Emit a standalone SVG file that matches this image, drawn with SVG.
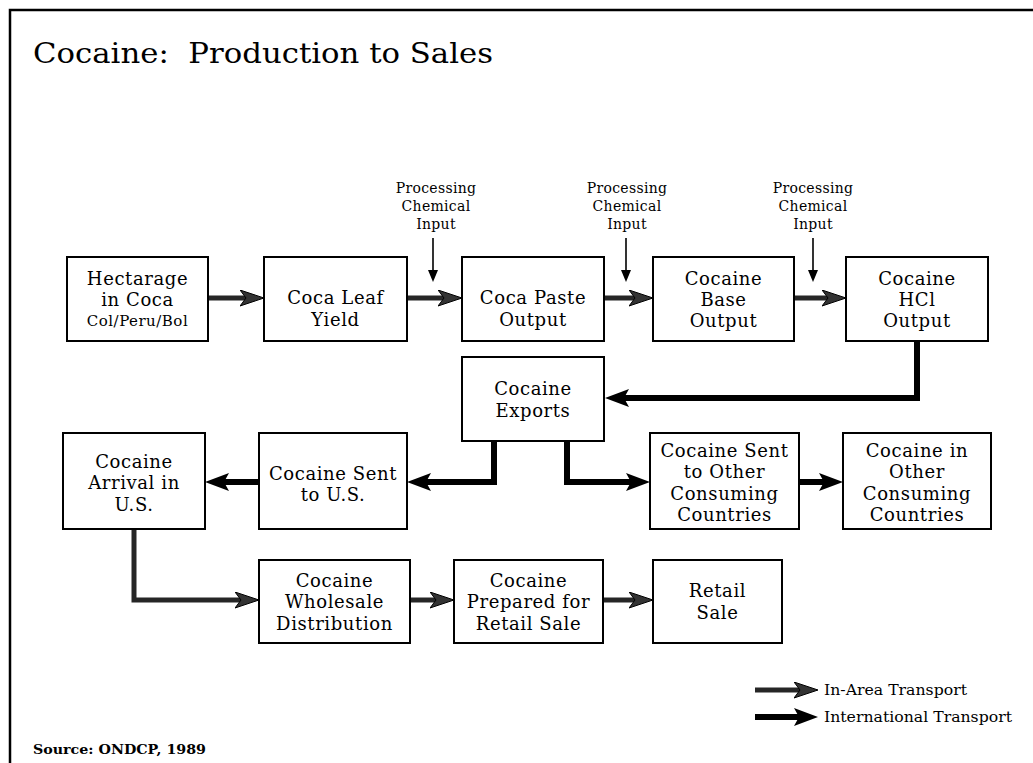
<svg xmlns="http://www.w3.org/2000/svg" width="1033" height="763" viewBox="0 0 1033 763">
<style>
.box{fill:#fff;stroke:#000;stroke-width:2}
.t{font-family:"DejaVu Serif","Liberation Serif",serif;font-size:18px;letter-spacing:0.6px;fill:#000;text-anchor:middle}
.s{font-family:"DejaVu Serif","Liberation Serif",serif;font-size:15px;letter-spacing:0.5px;fill:#000;text-anchor:middle}
.lab{font-family:"DejaVu Serif","Liberation Serif",serif;font-size:14px;letter-spacing:0.3px;fill:#000;text-anchor:middle}
.leg{font-family:"DejaVu Serif","Liberation Serif",serif;font-size:14px;fill:#000}
.inarea{fill:none;stroke:#262626;stroke-width:5;marker-end:url(#ahIn)}
.intl{fill:none;stroke:#000;stroke-width:6;marker-end:url(#ahIntl)}
.input{fill:none;stroke:#000;stroke-width:1.6;marker-end:url(#ahInput)}
</style>
<defs>
<marker id="ahIn" markerUnits="userSpaceOnUse" markerWidth="26" markerHeight="18" refX="10" refY="8" orient="auto">
<path d="M0,0 L24,8 L0,16 L6,8 Z" fill="#333" stroke="#000" stroke-width="1"/>
</marker>
<marker id="ahIntl" markerUnits="userSpaceOnUse" markerWidth="26" markerHeight="20" refX="10" refY="9" orient="auto">
<path d="M0,0 L24,9 L0,18 L5,9 Z" fill="#000"/>
</marker>
<marker id="ahInput" markerUnits="userSpaceOnUse" markerWidth="14" markerHeight="12" refX="4" refY="5" orient="auto">
<path d="M0,0 L12,5 L0,10 Z" fill="#000"/>
</marker>
</defs>
<rect width="1033" height="763" fill="#fff"/>
<path d="M10,763 V10 H1033" fill="none" stroke="#000" stroke-width="2.5"/>
<text x="33" y="63" font-family="DejaVu Serif, Liberation Serif, serif" font-size="28" textLength="460" lengthAdjust="spacingAndGlyphs" xml:space="preserve">Cocaine:  Production to Sales</text>

<g id="labels">
<text class="lab" x="436" y="193">Processing</text>
<text class="lab" x="436" y="211">Chemical</text>
<text class="lab" x="436" y="229">Input</text>
<text class="lab" x="627" y="193">Processing</text>
<text class="lab" x="627" y="211">Chemical</text>
<text class="lab" x="627" y="229">Input</text>
<text class="lab" x="813" y="193">Processing</text>
<text class="lab" x="813" y="211">Chemical</text>
<text class="lab" x="813" y="229">Input</text>
</g>

<g id="connectors">
<path class="input" d="M433,238 V274"/>
<path class="input" d="M626,238 V274"/>
<path class="input" d="M813,238 V274"/>
<path class="inarea" d="M208,298 H250"/>
<path class="inarea" d="M407,298 H448"/>
<path class="inarea" d="M604,298 H639"/>
<path class="inarea" d="M794,298 H832"/>
<path class="intl" d="M917,341 V398 H619"/>
<path class="intl" d="M494,441 V482 H421"/>
<path class="intl" d="M259,482 H219"/>
<path class="intl" d="M567,441 V482 H636"/>
<path class="intl" d="M799,482 H829"/>
<path class="inarea" d="M134,529 V600 H245"/>
<path class="inarea" d="M410,600 H440"/>
<path class="inarea" d="M603,600 H639"/>
</g>

<g id="hectarage"><rect class="box" x="67" y="257" width="141" height="84"/>
<text class="t" x="137.5" y="285">Hectarage</text><text class="t" x="137.5" y="306">in Coca</text><text class="s" x="137.5" y="326">Col/Peru/Bol</text></g>
<g id="coca-leaf"><rect class="box" x="264" y="257" width="143" height="84"/>
<text class="t" x="335.5" y="304">Coca Leaf</text><text class="t" x="335.5" y="326">Yield</text></g>
<g id="coca-paste"><rect class="box" x="462" y="257" width="142" height="84"/>
<text class="t" x="533" y="304">Coca Paste</text><text class="t" x="533" y="326">Output</text></g>
<g id="cocaine-base"><rect class="box" x="653" y="257" width="141" height="84"/>
<text class="t" x="723.5" y="285">Cocaine</text><text class="t" x="723.5" y="306">Base</text><text class="t" x="723.5" y="327">Output</text></g>
<g id="cocaine-hcl"><rect class="box" x="846" y="257" width="142" height="84"/>
<text class="t" x="917" y="285">Cocaine</text><text class="t" x="917" y="306">HCl</text><text class="t" x="917" y="327">Output</text></g>
<g id="cocaine-exports"><rect class="box" x="462" y="357" width="142" height="84"/>
<text class="t" x="533" y="395">Cocaine</text><text class="t" x="533" y="417">Exports</text></g>
<g id="arrival-us"><rect class="box" x="63" y="433" width="142" height="96"/>
<text class="t" x="134" y="468">Cocaine</text><text class="t" x="134" y="489">Arrival in</text><text class="t" x="134" y="511">U.S.</text></g>
<g id="sent-us"><rect class="box" x="259" y="433" width="148" height="96"/>
<text class="t" x="333" y="480">Cocaine Sent</text><text class="t" x="333" y="501">to U.S.</text></g>
<g id="sent-other"><rect class="box" x="650" y="433" width="149" height="96"/>
<text class="t" x="724.5" y="457">Cocaine Sent</text><text class="t" x="724.5" y="478">to Other</text><text class="t" x="724.5" y="500">Consuming</text><text class="t" x="724.5" y="521">Countries</text></g>
<g id="in-other"><rect class="box" x="843" y="433" width="148" height="96"/>
<text class="t" x="917" y="457">Cocaine in</text><text class="t" x="917" y="478">Other</text><text class="t" x="917" y="500">Consuming</text><text class="t" x="917" y="521">Countries</text></g>
<g id="wholesale"><rect class="box" x="259" y="560" width="151" height="83"/>
<text class="t" x="334.5" y="587">Cocaine</text><text class="t" x="334.5" y="608">Wholesale</text><text class="t" x="334.5" y="630">Distribution</text></g>
<g id="prepared"><rect class="box" x="454" y="560" width="149" height="83"/>
<text class="t" x="528.5" y="587">Cocaine</text><text class="t" x="528.5" y="608">Prepared for</text><text class="t" x="528.5" y="630">Retail Sale</text></g>
<g id="retail"><rect class="box" x="653" y="560" width="129" height="83"/>
<text class="t" x="717.5" y="597">Retail</text><text class="t" x="717.5" y="619">Sale</text></g>

<g id="legend">
<path class="inarea" d="M755,690 H804"/>
<path class="intl" d="M755,717 H804"/>
<text class="leg" x="824" y="695" textLength="143" lengthAdjust="spacingAndGlyphs">In-Area Transport</text>
<text class="leg" x="824" y="722" textLength="188" lengthAdjust="spacingAndGlyphs">International Transport</text>
</g>
<text x="33" y="754" font-family="DejaVu Serif, Liberation Serif, serif" font-size="13" font-weight="bold" textLength="173" lengthAdjust="spacingAndGlyphs">Source: ONDCP, 1989</text>
</svg>
